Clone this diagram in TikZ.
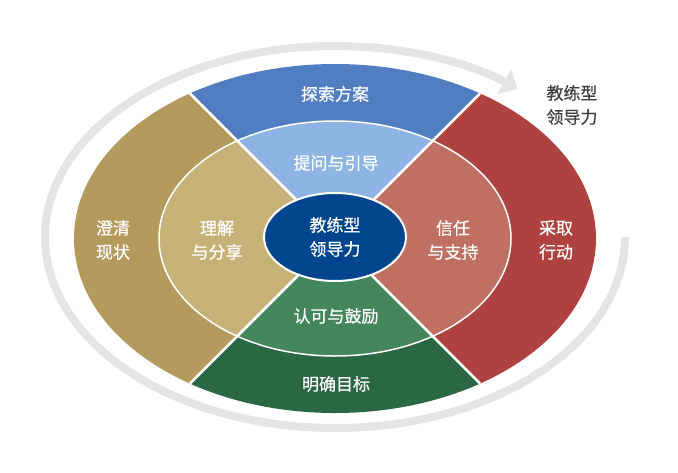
\documentclass[tikz,border=0pt]{standalone}
\usepackage{fontspec}
\setmainfont{Noto Sans CJK SC}
\newfontfamily\lblfont[FakeBold=0.5]{Noto Sans CJK SC}
\usetikzlibrary{arrows.meta,shapes.geometric}
\definecolor{blueO}{RGB}{80,126,192}
\definecolor{blueI}{RGB}{141,180,226}
\definecolor{tanO}{RGB}{180,154,92}
\definecolor{tanI}{RGB}{198,178,119}
\definecolor{redO}{RGB}{173,66,64}
\definecolor{redI}{RGB}{192,112,98}
\definecolor{greenO}{RGB}{42,104,68}
\definecolor{greenI}{RGB}{68,135,92}
\definecolor{core}{RGB}{0,70,142}
\definecolor{ringgray}{RGB}{229,229,229}
\definecolor{note}{RGB}{64,64,64}
\tikzset{
  lbl/.style={text=white, font=\lblfont\fontsize{17}{24}\selectfont, align=center, inner sep=0pt},
  sepline/.style={draw=white, line width=2.5pt},
}
\begin{document}
\begin{tikzpicture}[x=1pt,y=1pt]
\useasboundingbox (0,0) rectangle (678,-472);
\coordinate (C) at (335,-238.5);
\coordinate (RS) at (625,-237);
\coordinate (UL) at (190,-93.5);
\coordinate (UR) at (480,-93.5);
\coordinate (LL) at (190,-383.5);
\coordinate (LR) at (480,-383.5);
% gray cycle arrow
\draw[ringgray, line width=8pt, -{Triangle[length=15pt,width=28pt]}]
  (RS) arc[start angle=0, end angle=-309, x radius=290, y radius=191];
% outer band
\begin{scope}
  \clip (C) ellipse[x radius=261, y radius=174.5];
  \fill[blueO] (C) -- ++(-300,300) -- ++(600,0) -- cycle;
  \fill[redO] (C) -- ++(300,300) -- ++(0,-600) -- cycle;
  \fill[greenO] (C) -- ++(300,-300) -- ++(-600,0) -- cycle;
  \fill[tanO] (C) -- ++(-300,-300) -- ++(0,600) -- cycle;
\end{scope}
% middle band
\begin{scope}
  \clip (C) ellipse[x radius=176, y radius=117.5];
  \fill[blueI] (C) -- ++(-300,300) -- ++(600,0) -- cycle;
  \fill[redI] (C) -- ++(300,300) -- ++(0,-600) -- cycle;
  \fill[greenI] (C) -- ++(300,-300) -- ++(-600,0) -- cycle;
  \fill[tanI] (C) -- ++(-300,-300) -- ++(0,600) -- cycle;
\end{scope}
\draw[white, line width=1.5pt] (C) ellipse[x radius=176, y radius=117.5];
\draw[sepline] (C) -- (UL);
\draw[sepline] (C) -- (UR);
\draw[sepline] (C) -- (LL);
\draw[sepline] (C) -- (LR);
% core
\node[ellipse, fill=core, draw=white, line width=2pt, minimum width=142pt, minimum height=88pt, lbl] (core) at (335,-237) {教练型\\领导力};
% labels
\node[lbl] (tansuo) at (335,-94) {探索方案};
\node[lbl] (tiwen) at (336,-163) {提问与引导};
\node[lbl] (renke) at (336,-316) {认可与鼓励};
\node[lbl] (mingque) at (336,-384) {明确目标};
\node[lbl] (chengqing) at (113,-240) {澄清\\现状};
\node[lbl] (lijie) at (217,-240) {理解\\与分享};
\node[lbl] (xinren) at (453,-240) {信任\\与支持};
\node[lbl] (caiqu) at (556,-240) {采取\\行动};
\node[lbl, text=note] (title) at (572,-105) {教练型\\领导力};
\end{tikzpicture}
\end{document}
